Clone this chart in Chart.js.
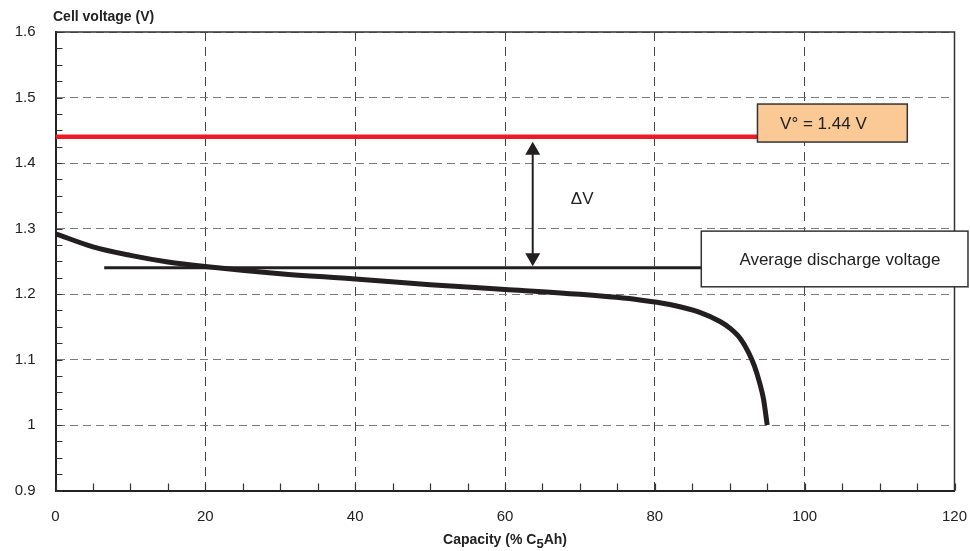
<!DOCTYPE html>
<html>
<head>
<meta charset="utf-8">
<title>Cell voltage vs capacity</title>
<script src="https://cdn.jsdelivr.net/npm/chart.js@4.4.1/dist/chart.umd.min.js"></script>
<style>
  html, body { margin: 0; padding: 0; background: #fff; }
  canvas { display: block; }
</style>
</head>
<body>
<canvas id="dischargeChart" width="970" height="551"></canvas>
<script>
// Discharge curve
const capacity = [0, 5, 10, 15, 20, 30, 40, 50, 60, 70, 78, 82, 86, 88.7, 90, 91.4, 92.5, 93.3, 94.0, 94.5, 95];
const voltage = [1.292, 1.272, 1.259, 1.249, 1.242, 1.231, 1.223, 1.214, 1.207, 1.1995, 1.191, 1.184, 1.172, 1.158, 1.148, 1.132, 1.111, 1.090, 1.064, 1.040, 1.0];

// Reference lines
const nominalVoltage = 1.44;
const nominalSpan = [0, 93.7];
const averageVoltage = 1.24;
const averageSpan = [6.5, 86.2];

// Axis ticks
const xTicks = [0, 20, 40, 60, 80, 100, 120];
const yTicks = [0.9, 1.0, 1.1, 1.2, 1.3, 1.4, 1.5, 1.6];
const yTickLabels = ['0.9', '1', '1.1', '1.2', '1.3', '1.4', '1.5', '1.6'];

const FONT = '"Liberation Sans", Arial, sans-serif';
const INK = '#231f20';

// annotation placement (data coordinates)
const nominalBox = { x1: 93.7, x2: 113.7, y1: 1.490, y2: 1.432, textX: 102.5, text: 'V\u00b0 = 1.44 V' };
const averageBox = { x1: 86.2, x2: 121.8, y1: 1.296, y2: 1.211, textX: 104.7, text: 'Average discharge voltage' };
const arrowX = 63.7;
const deltaLabel = { x: 70.3, y: 1.345, text: '\u0394V' };

const decorations = {
    id: 'decorations',
    beforeDraw(chart) {
        const ctx = chart.ctx;
        ctx.save();
        ctx.fillStyle = '#fff';
        ctx.fillRect(0, 0, chart.width, chart.height);
        ctx.restore();
    },
    beforeDatasetsDraw(chart) {
        const { ctx, chartArea: a, scales: { x, y } } = chart;
        ctx.save();
        // top and right frame
        ctx.strokeStyle = '#333';
        ctx.lineWidth = 1.5;
        ctx.beginPath();
        ctx.moveTo(a.left, a.top);
        ctx.lineTo(a.right, a.top);
        ctx.lineTo(a.right, a.bottom);
        ctx.stroke();
        // minor ticks, drawn inward
        ctx.strokeStyle = '#333';
        ctx.lineWidth = 1.2;
        ctx.beginPath();
        for (let v = 0.9; v <= 1.6001; v += 0.025) {
            const py = Math.round(y.getPixelForValue(v)) + 0.5;
            ctx.moveTo(a.left, py);
            ctx.lineTo(a.left + 7, py);
        }
        for (let v = 0; v <= 120; v += 5) {
            const px = Math.round(x.getPixelForValue(v)) + 0.5;
            ctx.moveTo(px, a.bottom);
            ctx.lineTo(px, a.bottom - 7);
        }
        ctx.stroke();
        ctx.restore();
    },
    afterDatasetsDraw(chart) {
        const { ctx, scales: { x, y } } = chart;
        ctx.save();

        // double arrow between V° and average voltage
        const ax = x.getPixelForValue(arrowX);
        const top = y.getPixelForValue(nominalVoltage) + 5;
        const bot = y.getPixelForValue(averageVoltage) - 1.5;
        ctx.strokeStyle = INK;
        ctx.fillStyle = INK;
        ctx.lineWidth = 2;
        ctx.beginPath();
        ctx.moveTo(ax, top + 10);
        ctx.lineTo(ax, bot - 10);
        ctx.stroke();
        ctx.beginPath();
        ctx.moveTo(ax, top);
        ctx.lineTo(ax - 7.5, top + 13);
        ctx.lineTo(ax + 7.5, top + 13);
        ctx.closePath();
        ctx.moveTo(ax, bot);
        ctx.lineTo(ax - 7.5, bot - 13);
        ctx.lineTo(ax + 7.5, bot - 13);
        ctx.closePath();
        ctx.fill();

        // delta V label
        ctx.font = '17px ' + FONT;
        ctx.textAlign = 'center';
        ctx.textBaseline = 'middle';
        ctx.fillStyle = '#222';
        ctx.fillText(deltaLabel.text, x.getPixelForValue(deltaLabel.x), y.getPixelForValue(deltaLabel.y));

        // label boxes
        const drawBox = (b, fill) => {
            const l = x.getPixelForValue(b.x1), r = x.getPixelForValue(b.x2);
            const t = y.getPixelForValue(b.y1), btm = y.getPixelForValue(b.y2);
            ctx.fillStyle = fill;
            ctx.fillRect(l, t, r - l, btm - t);
            ctx.strokeStyle = '#333';
            ctx.lineWidth = 1.5;
            ctx.strokeRect(l, t, r - l, btm - t);
            ctx.fillStyle = '#222';
            ctx.font = '17px ' + FONT;
            ctx.textAlign = 'center';
            ctx.textBaseline = 'middle';
            ctx.fillText(b.text, x.getPixelForValue(b.textX), (t + btm) / 2 + 1);
        };
        drawBox(nominalBox, '#fac995');
        drawBox(averageBox, '#ffffff');
        ctx.restore();
    },
    afterDraw(chart) {
        const { ctx, chartArea: a } = chart;
        ctx.save();
        ctx.fillStyle = '#222';
        ctx.textBaseline = 'middle';
        // y axis title, top left
        ctx.font = 'bold 14px ' + FONT;
        ctx.textAlign = 'left';
        ctx.fillText('Cell voltage (V)', 53, 17);

        // x axis title with subscript
        const base = 'bold 14px ' + FONT;
        const sub = 'bold 13px ' + FONT;
        const parts = [['Capacity (% C', base, 0], ['5', sub, 4], ['Ah)', base, 0]];
        let total = 0;
        parts.forEach(p => { ctx.font = p[1]; total += ctx.measureText(p[0]).width; });
        let cx = (a.left + a.right) / 2 - total / 2;
        parts.forEach(p => {
            ctx.font = p[1];
            ctx.fillText(p[0], cx, 540 + p[2]);
            cx += ctx.measureText(p[0]).width;
        });
        ctx.restore();
    }
};

const ctx = document.getElementById('dischargeChart').getContext('2d');
new Chart(ctx, {
    type: 'scatter',
    data: {
        datasets: [
            {
                label: 'Nominal voltage',
                data: nominalSpan.map(c => ({ x: c, y: nominalVoltage })),
                showLine: true,
                borderColor: '#ed1c24',
                borderWidth: 4.5,
                pointRadius: 0
            },
            {
                label: 'Average discharge voltage',
                data: averageSpan.map(c => ({ x: c, y: averageVoltage })),
                showLine: true,
                borderColor: INK,
                borderWidth: 3,
                pointRadius: 0
            },
            {
                label: 'Discharge curve',
                data: capacity.map((c, i) => ({ x: c, y: voltage[i] })),
                showLine: true,
                borderColor: INK,
                borderWidth: 5,
                pointRadius: 0,
                cubicInterpolationMode: 'monotone',
                borderCapStyle: 'butt',
                borderJoinStyle: 'round'
            }
        ]
    },
    options: {
        responsive: false,
        animation: false,
        layout: { padding: { top: 32, right: 0, left: 0, bottom: 0 } },
        plugins: {
            legend: { display: false },
            tooltip: { enabled: false }
        },
        scales: {
            x: {
                type: 'linear',
                min: 0,
                max: 120,
                afterBuildTicks: s => { s.ticks = xTicks.map(v => ({ value: v })); },
                afterFit: s => { s.height = 60.5; s.paddingLeft = 0; s.paddingRight = 15.5; },
                grid: { color: '#444', lineWidth: 1, drawTicks: false },
                border: { display: true, color: '#222', width: 2, dash: [9, 6] },
                ticks: {
                    color: '#222',
                    padding: 17,
                    maxRotation: 0,
                    font: { family: FONT, size: 15 }
                }
            },
            y: {
                type: 'linear',
                min: 0.9,
                max: 1.6,
                afterBuildTicks: s => { s.ticks = yTicks.map(v => ({ value: v })); },
                afterFit: s => { s.width = 55.5; },
                grid: { color: '#7a7a7a', lineWidth: 1, drawTicks: false },
                border: { display: true, color: '#222', width: 2, dash: [8, 5] },
                ticks: {
                    color: '#222',
                    padding: 20,
                    font: { family: FONT, size: 15 },
                    callback: (v, i) => yTickLabels[i]
                }
            }
        }
    },
    plugins: [decorations]
});
</script>
</body>
</html>
